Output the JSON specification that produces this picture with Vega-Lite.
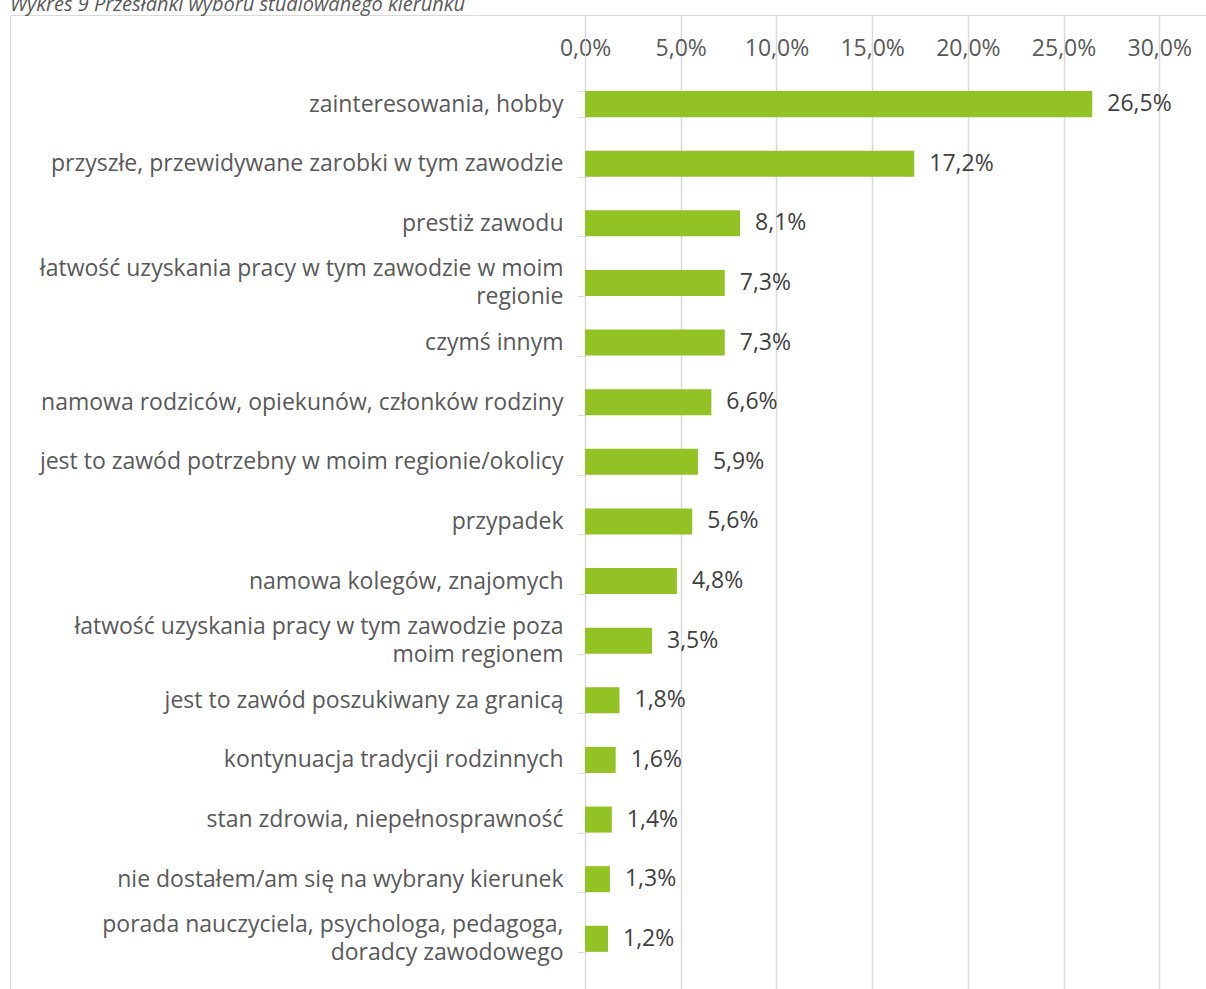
{
  "$schema": "https://vega.github.io/schema/vega-lite/v6.json",
  "width": 1200,
  "height": 980,
  "autosize": {"type": "none"},
  "padding": {"left": 10, "top": 15, "right": 0, "bottom": 0},
  "background": "white",
  "title": {
    "text": "Wykres 9 Przesłanki wyboru studiowanego kierunku",
    "anchor": "start",
    "frame": "group",
    "fontStyle": "italic",
    "fontWeight": "normal",
    "fontSize": 20,
    "font": "Open Sans",
    "color": "#595959",
    "baseline": "alphabetic",
    "offset": 7,
    "dy": 34
  },
  "config": {
    "locale": {
      "number": {"decimal": ",", "thousands": " ", "grouping": [3], "currency": ["", " zł"]}
    },
    "view": {"stroke": "#d9d9d9", "strokeWidth": 1},
    "font": "Open Sans"
  },
  "data": {
    "values": [
      {"cat": "zainteresowania, hobby", "value": 0.265},
      {"cat": "przyszłe, przewidywane zarobki w tym zawodzie", "value": 0.172},
      {"cat": "prestiż zawodu", "value": 0.081},
      {"cat": "łatwość uzyskania pracy w tym zawodzie w moim\nregionie", "value": 0.073},
      {"cat": "czymś innym", "value": 0.073},
      {"cat": "namowa rodziców, opiekunów, członków rodziny", "value": 0.066},
      {"cat": "jest to zawód potrzebny w moim regionie/okolicy", "value": 0.059},
      {"cat": "przypadek", "value": 0.056},
      {"cat": "namowa kolegów, znajomych", "value": 0.048},
      {"cat": "łatwość uzyskania pracy w tym zawodzie poza\nmoim regionem", "value": 0.035},
      {"cat": "jest to zawód poszukiwany za granicą", "value": 0.018},
      {"cat": "kontynuacja tradycji rodzinnych", "value": 0.016},
      {"cat": "stan zdrowia, niepełnosprawność", "value": 0.014},
      {"cat": "nie dostałem/am się na wybrany kierunek", "value": 0.013},
      {"cat": "porada nauczyciela, psychologa, pedagoga,\ndoradcy zawodowego", "value": 0.012}
    ]
  },
  "encoding": {
    "y": {
      "field": "cat",
      "type": "nominal",
      "sort": null,
      "scale": {"paddingInner": 0.563, "paddingOuter": 1.0125, "align": 0.638},
      "axis": {
        "title": null,
        "orient": "left",
        "offset": -575,
        "labelExpr": "length(split(datum.value, regexp('\\\\n'))) > 1 ? [split(datum.value, regexp('\\\\n'))[0], split(datum.value, regexp('\\\\n'))[1] + pad('', length(split(datum.value, regexp('\\\\n'))[0]) - length(split(datum.value, regexp('\\\\n'))[1]), '\u00a0')] : datum.label",
        "labelOffset": {"condition": {"test": "test(regexp('\\\\n'), datum.value)", "value": -14}, "value": 0},
        "labelAlign": "right",
        "labelFontSize": 23,
        "labelFont": "Open Sans",
        "labelColor": "#595959",
        "labelLineHeight": 28,
        "labelPadding": 14,
        "labelLimit": 700,
        "tickBand": "extent",
        "ticks": true,
        "tickSize": 8,
        "tickColor": "#d9d9d9",
        "domain": true,
        "domainColor": "#d9d9d9",
        "grid": false,
        "encode": {
          "domain": {"update": {"y": {"value": 60}, "y2": {"value": 953}}}
        }
      }
    },
    "x": {
      "field": "value",
      "type": "quantitative",
      "scale": {"domain": [-0.3004, 0.3265], "nice": false, "zero": false},
      "axis": {
        "title": null,
        "orient": "top",
        "offset": -45,
        "values": [0, 0.05, 0.1, 0.15, 0.2, 0.25, 0.3],
        "format": ".1%",
        "labelFontSize": 23,
        "labelFont": "Open Sans",
        "labelColor": "#595959",
        "labelPadding": 0,
        "ticks": false,
        "tickSize": 0,
        "domain": false,
        "grid": true,
        "gridColor": "#d9d9d9",
        "gridWidth": 1.5,
        "encode": {"grid": {"update": {"y": {"value": 15}, "y2": {"value": 908}}}}
      }
    }
  },
  "layer": [
    {"mark": {"type": "bar", "color": "#92C223"}},
    {
      "mark": {"type": "text", "align": "left", "baseline": "middle", "dx": 15, "fontSize": 23, "font": "Open Sans", "color": "#404040"},
      "encoding": {"text": {"field": "value", "type": "quantitative", "format": ".1%"}}
    }
  ]
}
